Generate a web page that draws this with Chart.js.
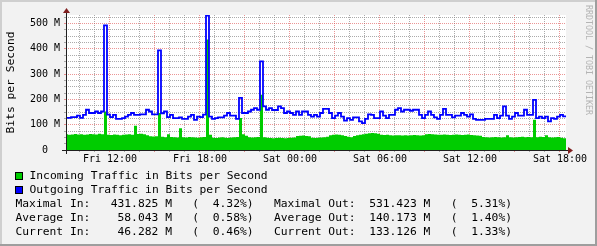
<!DOCTYPE html>
<html>
<head>
<meta charset="utf-8">
<script src="https://cdn.jsdelivr.net/npm/chart.js@4.4.0/dist/chart.umd.min.js"></script>
<style>
  html, body { margin: 0; padding: 0; background: #f2f2f2; }
  #wrap { position: relative; width: 597px; height: 246px; font-family: 'DejaVu Sans Mono', monospace; color: #000; }
  #trafficChart { position: absolute; left: 0; top: 0; }
  .row { position: absolute; font-size: 11.3px; line-height: 14px; white-space: pre; }
  .swatch { position: absolute; left: 15px; width: 8px; height: 8px; box-sizing: border-box; border: 1px solid #000; }
</style>
</head>
<body>
<div id="wrap">
  <canvas id="trafficChart" width="597" height="246"></canvas>
  <div id="legend"></div>
</div>
<script>
// time axis in hours since Fri 00:00, one sample every 12 minutes
const sampleStart = 9.0;
const sampleStep = 0.2;
const viewStart = 9.067;
const viewEnd = 42.4;
const yMax = 533;

// values in M bits per second
const inTraffic = [62,
  62, 60, 61, 63, 61, 62, 60, 61, 63, 62,
  61, 64, 62, 152, 60, 59, 61, 60, 58, 60,
  61, 62, 60, 96, 63, 64, 62, 58, 54, 53,
  54, 146, 52, 50, 62, 51, 50, 49, 86, 50,
  49, 51, 50, 49, 48, 50, 51, 436, 60, 48,
  47, 49, 50, 48, 47, 49, 50, 51, 126, 62,
  56, 50, 49, 50, 51, 218, 50, 48, 47, 46,
  47, 48, 47, 46, 47, 48, 49, 55, 56, 57,
  55, 54, 48, 47, 48, 49, 50, 52, 58, 60,
  61, 60, 58, 55, 52, 50, 55, 58, 60, 62,
  64, 66, 67, 66, 64, 60, 59, 60, 58, 57,
  58, 58, 57, 58, 57, 58, 59, 58, 57, 58,
  62, 63, 62, 61, 60, 60, 61, 60, 59, 60,
  61, 60, 59, 60, 61, 59, 58, 57, 56, 51,
  50, 49, 50, 51, 50, 49, 50, 58, 50, 49,
  50, 51, 52, 50, 51, 50, 119, 50, 52, 51,
  58, 50, 49, 50, 51, 48, 46];

const outTraffic = [127,
  127, 127, 130, 130, 136, 127, 139, 159, 146, 146,
  152, 146, 152, 492, 140, 130, 139, 123, 123, 126,
  132, 139, 146, 139, 139, 141, 141, 159, 152, 141,
  141, 393, 145, 152, 130, 139, 126, 126, 129, 123,
  123, 132, 139, 119, 132, 130, 140, 531, 132, 123,
  126, 129, 129, 136, 146, 136, 136, 123, 206, 146,
  146, 152, 159, 165, 159, 350, 172, 159, 165, 158,
  158, 172, 165, 146, 152, 146, 139, 152, 139, 152,
  152, 139, 132, 139, 132, 146, 162, 162, 146, 126,
  136, 146, 132, 116, 126, 119, 129, 129, 113, 106,
  123, 141, 139, 126, 126, 152, 136, 126, 139, 139,
  159, 165, 152, 159, 159, 155, 159, 159, 139, 126,
  139, 152, 139, 129, 123, 139, 162, 139, 139, 129,
  136, 136, 146, 139, 132, 141, 123, 119, 119, 119,
  123, 123, 123, 139, 126, 136, 172, 136, 123, 132,
  146, 136, 136, 159, 139, 139, 198, 126, 132, 126,
  132, 113, 126, 123, 132, 139, 133];

const labelHours = [12, 18, 24, 30, 36, 42];
const labelTexts = ['Fri 12:00', 'Fri 18:00', 'Sat 00:00', 'Sat 06:00', 'Sat 12:00', 'Sat 18:00'];

const statNames = ['Maximal', 'Average', 'Current'];
const inStats = [431.825, 58.043, 46.282];
const inShare = [4.32, 0.58, 0.46];
const outStats = [531.423, 140.173, 133.126];
const outShare = [5.31, 1.40, 1.33];

const GREEN = '#00cc00';
const BLUE = '#0000ff';
const GRID_MINOR = 'rgba(143,143,143,0.75)';
const GRID_MAJOR = 'rgba(222,79,79,0.6)';
const MONO = "'DejaVu Sans Mono', monospace";

const toPoints = (arr) => arr.map((v, k) => ({ x: sampleStart + k * sampleStep, y: v }));

// background, frame, axes with arrows and the watermark, rrdtool style
const rrdFrame = {
  id: 'rrdFrame',
  beforeDraw(chart) {
    const { ctx, width, height, chartArea: a } = chart;
    ctx.save();
    ctx.fillStyle = '#f2f2f2';
    ctx.fillRect(0, 0, width, height);
    ctx.fillStyle = '#cfcfcf';
    ctx.fillRect(0, 0, width, 2);
    ctx.fillRect(0, 0, 2, height);
    ctx.fillStyle = '#9e9e9e';
    ctx.fillRect(0, height - 2, width, 2);
    ctx.fillRect(width - 2, 0, 2, height);
    ctx.fillStyle = '#ffffff';
    ctx.fillRect(a.left, a.top, a.right - a.left, a.bottom - a.top);
    ctx.restore();
  },
  afterDatasetsDraw(chart) {
    const { ctx, chartArea: a } = chart;
    ctx.save();
    ctx.strokeStyle = '#1f1f1f';
    ctx.lineWidth = 1;
    ctx.beginPath();
    ctx.moveTo(a.left - 4, a.bottom + 0.5);
    ctx.lineTo(a.right + 4, a.bottom + 0.5);
    ctx.moveTo(a.left + 0.5, a.bottom + 4);
    ctx.lineTo(a.left + 0.5, a.top - 4);
    ctx.stroke();
    ctx.fillStyle = '#801f1f';
    ctx.beginPath();
    ctx.moveTo(a.right + 2, a.bottom - 3);
    ctx.lineTo(a.right + 2, a.bottom + 4);
    ctx.lineTo(a.right + 7, a.bottom + 0.5);
    ctx.closePath();
    ctx.fill();
    ctx.beginPath();
    ctx.moveTo(a.left - 3, a.top - 2);
    ctx.lineTo(a.left + 4, a.top - 2);
    ctx.lineTo(a.left + 0.5, a.top - 7);
    ctx.closePath();
    ctx.fill();
    // watermark
    ctx.translate(chart.width - 9, 5);
    ctx.rotate(Math.PI / 2);
    ctx.font = '8.3px ' + MONO;
    ctx.fillStyle = '#b4b4b4';
    ctx.textBaseline = 'middle';
    ctx.fillText('RRDTOOL / TOBI OETIKER', 0, 0);
    ctx.restore();
  }
};

new Chart(document.getElementById('trafficChart'), {
  type: 'line',
  data: {
    datasets: [
      {
        label: 'Outgoing Traffic in Bits per Second',
        data: toPoints(outTraffic),
        borderColor: BLUE,
        borderWidth: 1.8,
        stepped: 'after',
        fill: false,
        pointRadius: 0,
        order: 0
      },
      {
        label: 'Incoming Traffic in Bits per Second',
        data: toPoints(inTraffic),
        borderColor: GREEN,
        borderWidth: 0,
        backgroundColor: GREEN,
        stepped: 'after',
        fill: 'origin',
        pointRadius: 0,
        order: 1
      }
    ]
  },
  options: {
    responsive: false,
    animation: false,
    layout: { padding: { left: 0, right: 31, top: 15, bottom: 76 } },
    plugins: { legend: { display: false }, tooltip: { enabled: false } },
    scales: {
      x: {
        type: 'linear',
        min: viewStart,
        max: viewEnd,
        bounds: 'data',
        afterBuildTicks: (scale) => {
          const ticks = [];
          for (let h = Math.ceil(viewStart); h <= viewEnd; h++) ticks.push({ value: h });
          scale.ticks = ticks;
        },
        afterFit: (scale) => { scale.height = 20; },
        border: { display: false, dash: [1, 1] },
        grid: {
          color: (c) => (c.tick.value % 3 === 0 ? GRID_MAJOR : GRID_MINOR),
          tickColor: (c) => (c.tick.value % 3 === 0 ? GRID_MAJOR : GRID_MINOR),
          tickLength: 2
        },
        ticks: {
          autoSkip: false,
          maxRotation: 0,
          minRotation: 0,
          padding: 1,
          color: '#000',
          font: { family: MONO, size: 10 },
          callback: (v) => {
            const i = labelHours.indexOf(v);
            return i >= 0 ? labelTexts[i] : '';
          }
        }
      },
      y: {
        type: 'linear',
        min: 0,
        max: yMax,
        bounds: 'data',
        afterBuildTicks: (scale) => {
          const ticks = [];
          for (let v = 0; v <= yMax; v += 25) ticks.push({ value: v });
          scale.ticks = ticks;
        },
        afterFit: (scale) => { scale.width = 66; },
        border: { display: false, dash: [1, 1] },
        grid: {
          color: (c) => (c.tick.value === 0 ? 'rgba(0,0,0,0)' : c.tick.value % 100 === 0 ? GRID_MAJOR : GRID_MINOR),
          tickColor: (c) => (c.tick.value % 100 === 0 ? GRID_MAJOR : GRID_MINOR),
          tickLength: 2
        },
        title: {
          display: true,
          text: 'Bits per Second',
          color: '#000',
          font: { family: MONO, size: 11.3 },
          padding: { top: 4, bottom: 0 }
        },
        ticks: {
          autoSkip: false,
          padding: 4,
          color: '#000',
          font: { family: MONO, size: 10 },
          callback: (v) => (v % 100 !== 0 ? '' : v === 0 ? '0  ' : v + ' M')
        }
      }
    }
  },
  plugins: [rrdFrame]
});

// legend and statistics block
const legend = document.getElementById('legend');
const addRow = (left, top, text) => {
  const d = document.createElement('div');
  d.className = 'row';
  d.style.left = left + 'px';
  d.style.top = top + 'px';
  d.textContent = text;
  legend.appendChild(d);
};
const addSwatch = (top, color) => {
  const s = document.createElement('div');
  s.className = 'swatch';
  s.style.top = top + 'px';
  s.style.background = color;
  legend.appendChild(s);
};
addSwatch(172, GREEN);
addRow(29.5, 169, 'Incoming Traffic in Bits per Second');
addSwatch(186, BLUE);
addRow(29.5, 183, 'Outgoing Traffic in Bits per Second');
statNames.forEach((name, i) => {
  const left = (name + ' In:').padEnd(14) + inStats[i].toFixed(3).padStart(7) + ' M   ( ' + inShare[i].toFixed(2).padStart(5) + '%)';
  const right = (name + ' Out:').padEnd(14) + outStats[i].toFixed(3).padStart(7) + ' M   ( ' + outShare[i].toFixed(2).padStart(5) + '%)';
  addRow(15.5, 197 + i * 14, left.padEnd(38) + right);
});
</script>
</body>
</html>
